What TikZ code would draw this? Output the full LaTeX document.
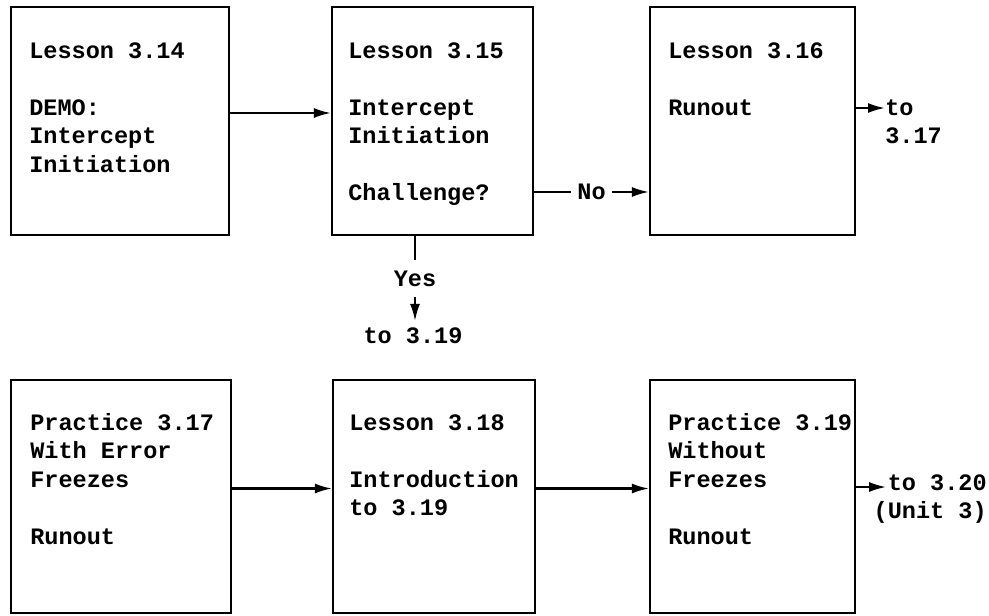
\documentclass[tikz,border=0pt]{standalone}
\usepackage{fontspec}
\setmonofont{Liberation Mono}
\usetikzlibrary{arrows.meta}

\begin{document}
\begin{tikzpicture}[x=0.02cm,y=-0.02cm,
    lesson/.style={draw,line width=1.3pt,inner sep=0pt},
    words/.style={anchor=north west,align=left,inner sep=0pt,font=\ttfamily\bfseries\fontsize{13.4}{16.2}\selectfont},
    link/.style={line width=1.2pt,-{Latex[length=0.34cm,width=0.2cm]}},
    gap/.style={fill=white,inner xsep=3.5pt,inner ysep=6pt,font=\ttfamily\bfseries\fontsize{13.4}{16.2}\selectfont}]
  \useasboundingbox (0,0) rectangle (989,615);

  % top row
  \node[lesson,minimum width=4.36cm,minimum height=4.56cm] (b1) at (120,121) {};
  \node[lesson,minimum width=4.02cm,minimum height=4.56cm] (b2) at (432.5,121) {};
  \node[lesson,minimum width=4.1cm,minimum height=4.56cm] (b3) at (752.5,121) {};
  \node[words] (t1) at (29,38) {\strut Lesson 3.14\\ \\DEMO:\\Intercept\\Initiation};
  \node[words] (t2) at (348,38) {\strut Lesson 3.15\\ \\Intercept\\Initiation\\ \\Challenge?};
  \node[words] (t3) at (668,38) {\strut Lesson 3.16\\ \\Runout};

  % bottom row
  \node[lesson,minimum width=4.4cm,minimum height=4.66cm] (b4) at (121,496.5) {};
  \node[lesson,minimum width=4.04cm,minimum height=4.66cm] (b5) at (434,496.5) {};
  \node[lesson,minimum width=4.1cm,minimum height=4.66cm] (b6) at (752.5,496.5) {};
  \node[words] (t4) at (30,410) {\strut Practice 3.17\\With Error\\Freezes\\ \\Runout};
  \node[words] (t5) at (349,410) {\strut Lesson 3.18\\ \\Introduction\\to 3.19};
  \node[words] (t6) at (668,410) {\strut Practice 3.19\\Without\\Freezes\\ \\Runout};

  % exits
  \node[words] (n1) at (885,95) {\strut to\\3.17};
  \node[words,anchor=base] (n2) at (413,343) {to 3.19};
  \node[words,anchor=north east,align=right] (n3) at (987,470) {\strut to 3.20\\(Unit 3)};
  \coordinate (e3) at ([xshift=0.6cm,yshift=0.19cm]b6.east);

  \draw[link] ([yshift=0.16cm]b1.east) -- ([yshift=0.16cm]b2.west);
  \draw[link] ([yshift=-1.42cm]b2.east) -- node[gap] {No} ([yshift=-1.42cm]b3.west);
  \draw[link] ([yshift=0.26cm]b3.east) coordinate (s1) -- (s1 -| n1.west);
  \coordinate (y0) at ([xshift=-0.35cm]b2.south);
  \coordinate (y1) at (y0 |- n2.north);
  \draw[link] (y0) -- node[gap] {Yes} ([yshift=0.12cm]y1);
  \draw[link] ([yshift=0.16cm]b4.east) -- ([yshift=0.16cm]b5.west);
  \draw[link] ([yshift=0.16cm]b5.east) -- ([yshift=0.16cm]b6.west);
  \draw[link] ([yshift=0.19cm]b6.east) -- (e3);
\end{tikzpicture}
\end{document}
